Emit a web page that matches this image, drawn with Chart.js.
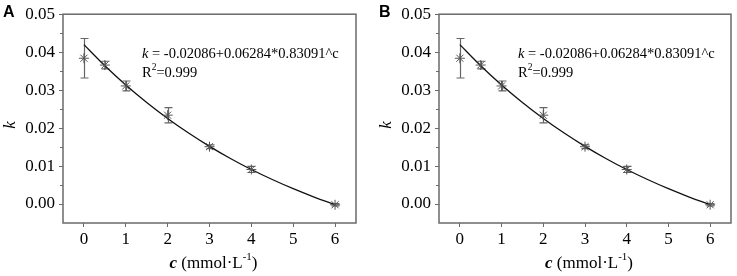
<!DOCTYPE html>
<html><head><meta charset="utf-8">
<script src="https://cdn.jsdelivr.net/npm/chart.js@4"></script>
<style>
html,body{margin:0;padding:0;background:#fff;}
#wrap{position:relative;width:737px;height:276px;overflow:hidden;background:#fff;}
canvas{position:absolute;top:0;}
</style></head><body>
<div id="wrap">
<canvas id="ca" width="368" height="276" style="left:0px"></canvas>
<canvas id="cb" width="361" height="276" style="left:376px"></canvas>
</div>
<script>
// ---- data ----
const concentrations = [0, 0.5, 1, 2, 3, 4, 6];
const kMean  = [0.0384, 0.0366, 0.0311, 0.0234, 0.0151, 0.0091, -0.0002];
const kError = [0.0052, 0.0010, 0.0013, 0.0020, 0.0005, 0.0008, 0.0003];
const fitC = [0, 0.5, 1, 1.5, 2, 2.5, 3, 3.5, 4, 4.5, 5, 5.5, 6];
const fitK = [0.04198, 0.03642, 0.03135, 0.02674, 0.02253, 0.01869, 0.01519, 0.01200, 0.00909, 0.00645, 0.00403, 0.00183, -0.00018];
const xTickValues = [0, 1, 2, 3, 4, 5, 6];
const yTickValues = [0.00, 0.01, 0.02, 0.03, 0.04, 0.05];
const yMinorTickValues = [0.005, 0.015, 0.025, 0.035, 0.045];
const panelLetters = ['A', 'B'];
const equationRest = ' = -0.02086+0.06284*0.83091^c';
const r2Value = '=0.999';
const xTitleUnit = ' (mmol\u00B7L';
const xTitleSup = '-1';

const SERIF = '"Liberation Serif","Times New Roman",serif';
const AXIS_COLOR = '#6a6a6a';

function makeChart(canvasId, letter, rightPad) {
  const extras = {
    id: 'extras',
    beforeDatasetsDraw(chart) {
      const ctx = chart.ctx, xs = chart.scales.x, ys = chart.scales.y;
      ctx.save();
      ctx.strokeStyle = '#666';
      ctx.lineWidth = 1.2;
      for (let i = 0; i < concentrations.length; i++) {
        const px = Math.round(xs.getPixelForValue(concentrations[i])) + 0.5;
        const top = ys.getPixelForValue(kMean[i] + kError[i]);
        const bot = ys.getPixelForValue(kMean[i] - kError[i]);
        ctx.beginPath();
        ctx.moveTo(px, top); ctx.lineTo(px, bot);
        ctx.moveTo(px - 4, top); ctx.lineTo(px + 4, top);
        ctx.moveTo(px - 4, bot); ctx.lineTo(px + 4, bot);
        ctx.stroke();
      }
      ctx.restore();
    },
    afterDraw(chart) {
      const ctx = chart.ctx, a = chart.chartArea, ys = chart.scales.y;
      ctx.save();
      // frame
      ctx.strokeStyle = AXIS_COLOR;
      ctx.lineWidth = 1.5;
      ctx.strokeRect(a.left, a.top, a.right - a.left, a.bottom - a.top);
      // minor y ticks
      ctx.lineWidth = 1;
      ctx.beginPath();
      yMinorTickValues.forEach(v => {
        const py = Math.round(ys.getPixelForValue(v)) + 0.5;
        ctx.moveTo(a.left - 3, py); ctx.lineTo(a.left, py);
      });
      ctx.stroke();
      // panel letter
      ctx.fillStyle = '#000';
      ctx.font = 'bold 16px "Liberation Sans",Arial,sans-serif';
      ctx.textBaseline = 'alphabetic';
      ctx.textAlign = 'left';
      ctx.fillText(letter, 3, 17);
      // equation
      let x = a.left + 79;
      ctx.font = 'italic 14.5px ' + SERIF;
      ctx.fillText('k', x, 57.5);
      x += ctx.measureText('k').width;
      ctx.font = '14.5px ' + SERIF;
      ctx.fillText(equationRest, x, 57.5);
      x = a.left + 79;
      ctx.fillText('R', x, 77);
      x += ctx.measureText('R').width;
      ctx.font = '9.5px ' + SERIF;
      ctx.fillText('2', x, 70);
      x += ctx.measureText('2').width;
      ctx.font = '14.5px ' + SERIF;
      ctx.fillText(r2Value, x, 77);
      // x title
      const parts = [
        {t: 'c', f: 'bold italic 17px ' + SERIF, dy: 0},
        {t: xTitleUnit, f: '17px ' + SERIF, dy: 0},
        {t: xTitleSup, f: '11px ' + SERIF, dy: -8},
        {t: ')', f: '17px ' + SERIF, dy: 0}
      ];
      let total = 0;
      parts.forEach(p => { ctx.font = p.f; p.w = ctx.measureText(p.t).width; total += p.w; });
      x = (a.left + a.right) / 2 + 4 - total / 2;
      parts.forEach(p => { ctx.font = p.f; ctx.fillText(p.t, x, 268 + p.dy); x += p.w; });
      // y title
      ctx.translate(11, 125);
      ctx.rotate(-Math.PI / 2);
      ctx.font = 'italic 17px ' + SERIF;
      ctx.textAlign = 'center';
      ctx.textBaseline = 'middle';
      ctx.fillText('k', 0, 0);
      ctx.restore();
    }
  };

  return new Chart(document.getElementById(canvasId), {
    type: 'scatter',
    data: {
      datasets: [
        {
          data: fitC.map((c, i) => ({x: c, y: fitK[i]})),
          showLine: true, pointRadius: 0, borderColor: '#111', borderWidth: 1.3,
          cubicInterpolationMode: 'monotone', fill: false, order: 2
        },
        {
          data: concentrations.map((c, i) => ({x: c, y: kMean[i]})),
          pointStyle: 'star', pointRadius: 5, borderColor: '#555', borderWidth: 1,
          backgroundColor: '#555', order: 1
        }
      ]
    },
    options: {
      responsive: false, animation: false, devicePixelRatio: 1,
      layout: {padding: {left: 0, right: rightPad, top: 9, bottom: 0}},
      plugins: {legend: {display: false}, tooltip: {enabled: false}},
      scales: {
        x: {
          type: 'linear', min: -0.5, max: 6.5,
          afterBuildTicks: s => { s.ticks = xTickValues.map(v => ({value: v})); },
          afterFit: s => { s.height = 53; },
          border: {display: false},
          grid: {drawOnChartArea: false, drawTicks: true, tickLength: 4, tickColor: AXIS_COLOR, tickWidth: 1},
          ticks: {color: '#000', font: {family: SERIF, size: 17}, padding: 2, maxRotation: 0,
                  callback: v => String(v)}
        },
        y: {
          type: 'linear', min: -0.005, max: 0.05,
          afterBuildTicks: s => { s.ticks = yTickValues.map(v => ({value: v})); },
          afterFit: s => { s.width = 63; },
          border: {display: false},
          grid: {drawOnChartArea: false, drawTicks: true, tickLength: 4, tickColor: AXIS_COLOR, tickWidth: 1},
          ticks: {color: '#000', font: {family: SERIF, size: 17}, padding: 4,
                  callback: v => Number(v).toFixed(2)}
        }
      }
    },
    plugins: [extras]
  });
}

makeChart('ca', panelLetters[0], 12);
makeChart('cb', panelLetters[1], 5);
</script>
</body></html>
